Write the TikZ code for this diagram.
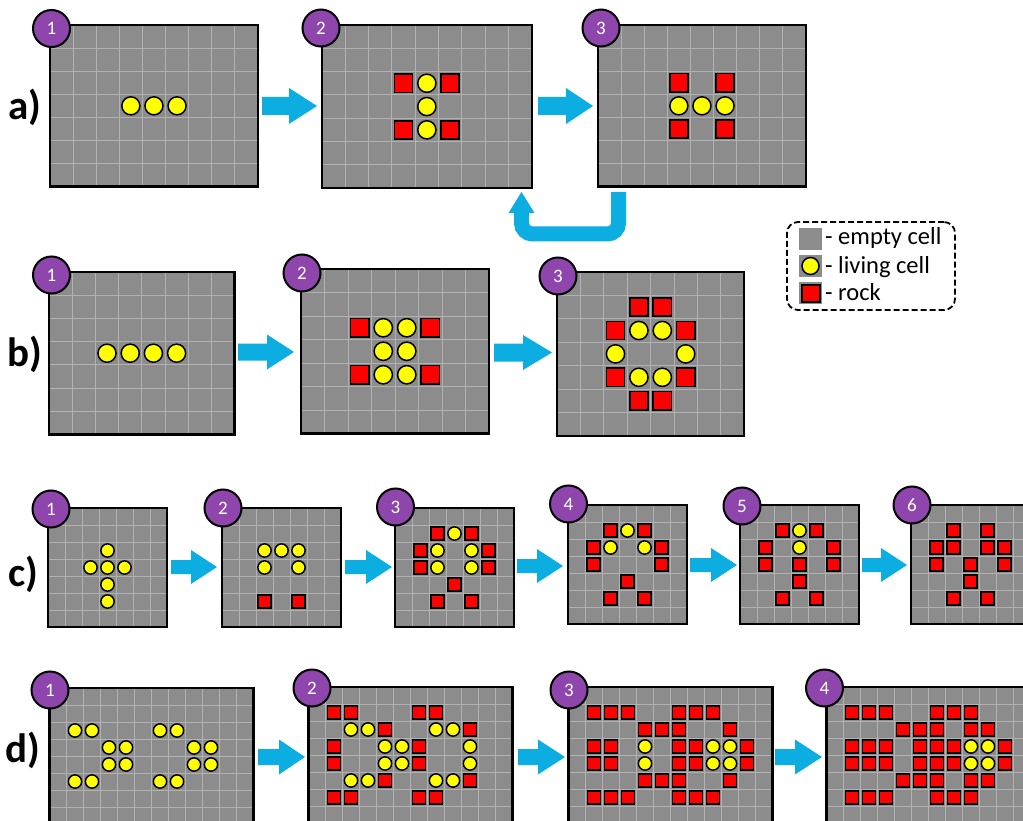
\documentclass[tikz,border=0pt]{standalone}
\usepackage{fontspec}
\setmainfont{Carlito}
\definecolor{emptygray}{RGB}{140,140,140}
\definecolor{gridgray}{RGB}{178,178,178}
\definecolor{arrowblue}{RGB}{12,174,226}
\definecolor{numpurple}{RGB}{142,70,172}
\definecolor{rockred}{RGB}{255,0,0}
\definecolor{liveyellow}{RGB}{255,255,0}
\tikzset{
 livecell/.style={fill=liveyellow, draw=black, line width=1.5pt},
 rockcell/.style={fill=rockred, draw=black, line width=1.5pt},
 numcirc/.style={circle, fill=numpurple, draw=black, line width=2pt, minimum size=37pt, inner sep=0pt, text=white, font=\fontsize{19}{19}\selectfont},
 rowlabel/.style={font=\fontsize{41}{41}\selectfont\bfseries, inner sep=0pt},
 legtext/.style={font=\fontsize{24.5}{24.5}\selectfont, inner sep=0pt, anchor=base west},
 panelframe/.style={draw=black, line width=2.4pt, inner sep=0pt, outer sep=0pt, anchor=north west},
 gridline/.style={gridgray, line width=1pt},
}
\newcommand\gpanel[6]{%
 \def\px{#2}\def\py{#3}\def\pc{#6}%
 \fill[emptygray] (#2,#3) rectangle ++(#4*#6,#5*#6);
 \pgfmathtruncatemacro\gpnc{#4-1}\pgfmathtruncatemacro\gpnr{#5-1}%
 \foreach \i in {1,...,\gpnc} {\draw[gridline] (#2+\i*#6,#3) -- ++(0,#5*#6);}
 \foreach \j in {1,...,\gpnr} {\draw[gridline] (#2,#3+\j*#6) -- ++(#4*#6,0);}
 \node[panelframe, minimum width={#4*#6*1pt}, minimum height={#5*#6*1pt}] (#1) at (#2,#3) {};
}
\newcommand\lv[2]{\filldraw[livecell] ({\px+(#1+0.5)*\pc},{\py+(#2+0.5)*\pc}) circle[radius={0.39*\pc*1pt}];}
\newcommand\rk[2]{\filldraw[rockcell] ({\px+(#1+0.11)*\pc},{\py+(#2+0.11)*\pc}) rectangle ({\px+(#1+0.89)*\pc},{\py+(#2+0.89)*\pc});}
\newcommand\lives[1]{\foreach \c/\r in {#1} {\lv{\c}{\r}}}
\newcommand\rocks[1]{\foreach \c/\r in {#1} {\rk{\c}{\r}}}
\newcommand\barrow[6]{%
 \fill[arrowblue] (#1,#3-#4) -- (#2-#6,#3-#4) -- (#2-#6,#3-#5) -- (#2,#3) -- (#2-#6,#3+#5) -- (#2-#6,#3+#4) -- (#1,#3+#4) -- cycle;}
\begin{document}
\begin{tikzpicture}[x=1pt,y=-1pt]
\useasboundingbox (0,0) rectangle (1023,821);
\fill[white] (0,0) rectangle (1023,821);
% ---------- row a
\gpanel{a1}{50}{25}{9}{7}{23.1}
\lives{3/3,4/3,5/3}
\gpanel{a2}{322}{25}{9}{7}{23.3}
\rocks{3/2,5/2,3/4,5/4}
\lives{4/2,4/3,4/4}
\gpanel{a3}{598}{25}{9}{7}{23.1}
\rocks{3/2,5/2,3/4,5/4}
\lives{3/3,4/3,5/3}
\barrow{262}{317}{106}{9}{18}{28}
\barrow{538}{593}{106}{9}{18}{27}
\draw[arrowblue, line width=15pt, rounded corners=11pt] (618.5,192) -- (618.5,234) -- (521.5,234) -- (521.5,210);
\fill[arrowblue] (508.5,213) -- (534.5,213) -- (521.5,192) -- cycle;
% ---------- row b
\gpanel{b1}{49}{272}{8}{7}{23.2}
\lives{2/3,3/3,4/3,5/3}
\gpanel{b2}{301}{269}{8}{7}{23.5}
\rocks{2/2,5/2,2/4,5/4}
\lives{3/2,4/2,3/3,4/3,3/4,4/4}
\gpanel{b3}{557}{272}{8}{7}{23.4}
\rocks{3/1,4/1,2/2,5/2,2/4,5/4,3/5,4/5}
\lives{3/2,4/2,2/3,5/3,3/4,4/4}
\barrow{238}{294}{352}{8.5}{17.5}{27}
\barrow{494}{552}{352.5}{9}{17.5}{29}
% ---------- row c
\gpanel{c1}{48}{508}{7}{7}{17}
\lives{3/2,2/3,3/3,4/3,3/4,3/5}
\gpanel{c2}{222}{508}{7}{7}{17}
\lives{2/2,3/2,4/2,2/3,4/3}
\rocks{2/5,4/5}
\gpanel{c3}{395}{508}{7}{7}{17}
\rocks{2/1,4/1,1/2,5/2,1/3,5/3,3/4,2/5,4/5}
\lives{3/1,2/2,4/2,2/3,4/3}
\gpanel{c4}{568}{505}{7}{7}{17}
\rocks{2/1,4/1,1/2,5/2,1/3,5/3,3/4,2/5,4/5}
\lives{3/1,2/2,4/2}
\gpanel{c5}{740}{505}{7}{7}{17}
\rocks{2/1,4/1,1/2,5/2,1/3,3/3,5/3,3/4,2/5,4/5}
\lives{3/1,3/2}
\gpanel{c6}{911}{505}{7}{7}{17}
\rocks{2/1,4/1,1/2,2/2,4/2,5/2,1/3,3/3,5/3,3/4,2/5,4/5}
\barrow{171}{217}{567}{7}{17}{26}
\barrow{345}{392}{567}{7}{17}{26}
\barrow{517}{563}{566}{7}{17}{26}
\barrow{690}{737}{565}{7}{17}{26}
\barrow{862}{907}{565}{7}{17}{26}
% ---------- row d
\gpanel{d1}{49.5}{688}{12}{9}{17}
\lives{1/2,2/2,6/2,7/2,3/3,4/3,8/3,9/3,3/4,4/4,8/4,9/4,1/5,2/5,6/5,7/5}
\gpanel{d2}{308.5}{687}{12}{9}{17}
\rocks{1/1,2/1,6/1,7/1,4/2,9/2,1/3,6/3,1/4,6/4,4/5,9/5,1/6,2/6,6/6,7/6}
\lives{2/2,3/2,7/2,8/2,4/3,5/3,9/3,4/4,5/4,9/4,2/5,3/5,7/5,8/5}
\gpanel{d3}{568.5}{687}{12}{9}{17}
\rocks{1/1,2/1,3/1,6/1,7/1,8/1,4/2,5/2,6/2,9/2,1/3,2/3,6/3,7/3,10/3,1/4,2/4,6/4,7/4,10/4,4/5,5/5,6/5,9/5,1/6,2/6,3/6,6/6,7/6,8/6}
\lives{4/3,8/3,9/3,4/4,8/4,9/4}
\gpanel{d4}{826.5}{687}{12}{9}{17}
\rocks{1/1,2/1,3/1,6/1,7/1,8/1,4/2,5/2,6/2,8/2,9/2,1/3,2/3,3/3,5/3,6/3,7/3,10/3,1/4,2/4,3/4,5/4,6/4,7/4,10/4,4/5,5/5,6/5,8/5,9/5,1/6,2/6,3/6,6/6,7/6,8/6}
\lives{8/3,9/3,8/4,9/4}
\barrow{258}{305}{757}{8}{17.5}{26}
\barrow{518}{565}{757}{8}{17.5}{27}
\barrow{775}{822}{757}{8}{17.5}{27}
% ---------- number circles
\node[numcirc] (na1) at (51.5,28.5) {1};
\node[numcirc] (na2) at (321,28) {2};
\node[numcirc] (na3) at (601,28) {3};
\node[numcirc] (nb1) at (51.5,275) {1};
\node[numcirc] (nb2) at (302,273) {2};
\node[numcirc] (nb3) at (558,276) {3};
\node[numcirc] (nc1) at (51,509) {1};
\node[numcirc] (nc2) at (223,508) {2};
\node[numcirc] (nc3) at (395.5,507) {3};
\node[numcirc] (nc4) at (568.5,504) {4};
\node[numcirc] (nc5) at (742,506) {5};
\node[numcirc] (nc6) at (912,505) {6};
\node[numcirc] (nd1) at (50,690) {1};
\node[numcirc] (nd2) at (312,688) {2};
\node[numcirc] (nd3) at (569,690) {3};
\node[numcirc] (nd4) at (824.5,688) {4};
% ---------- row labels
\node[rowlabel] (la) at (25,107) {a)};
\node[rowlabel] (lb) at (25,354) {b)};
\node[rowlabel] (lc) at (23,574) {c)};
\node[rowlabel] (ld) at (23,750) {d)};
% ---------- legend
\node[draw=black, line width=1.8pt, dash pattern=on 6pt off 3pt, rounded corners=11pt, minimum width=168pt, minimum height=88pt, inner sep=0pt] (legend) at (871,266) {};
\fill[emptygray] (799,228) rectangle (822,250);
\fill[emptygray] (799,255) rectangle (822,277);
\filldraw[livecell] (810.5,266) circle[radius=8.5pt];
\fill[emptygray] (799,282) rectangle (822,304);
\filldraw[rockcell] (802,285) rectangle (820,302);
\node[legtext] (t1) at (825,245) {- empty cell};
\node[legtext] (t2) at (825,273) {- living cell};
\node[legtext] (t3) at (825,300) {- rock};
\end{tikzpicture}
\end{document}
